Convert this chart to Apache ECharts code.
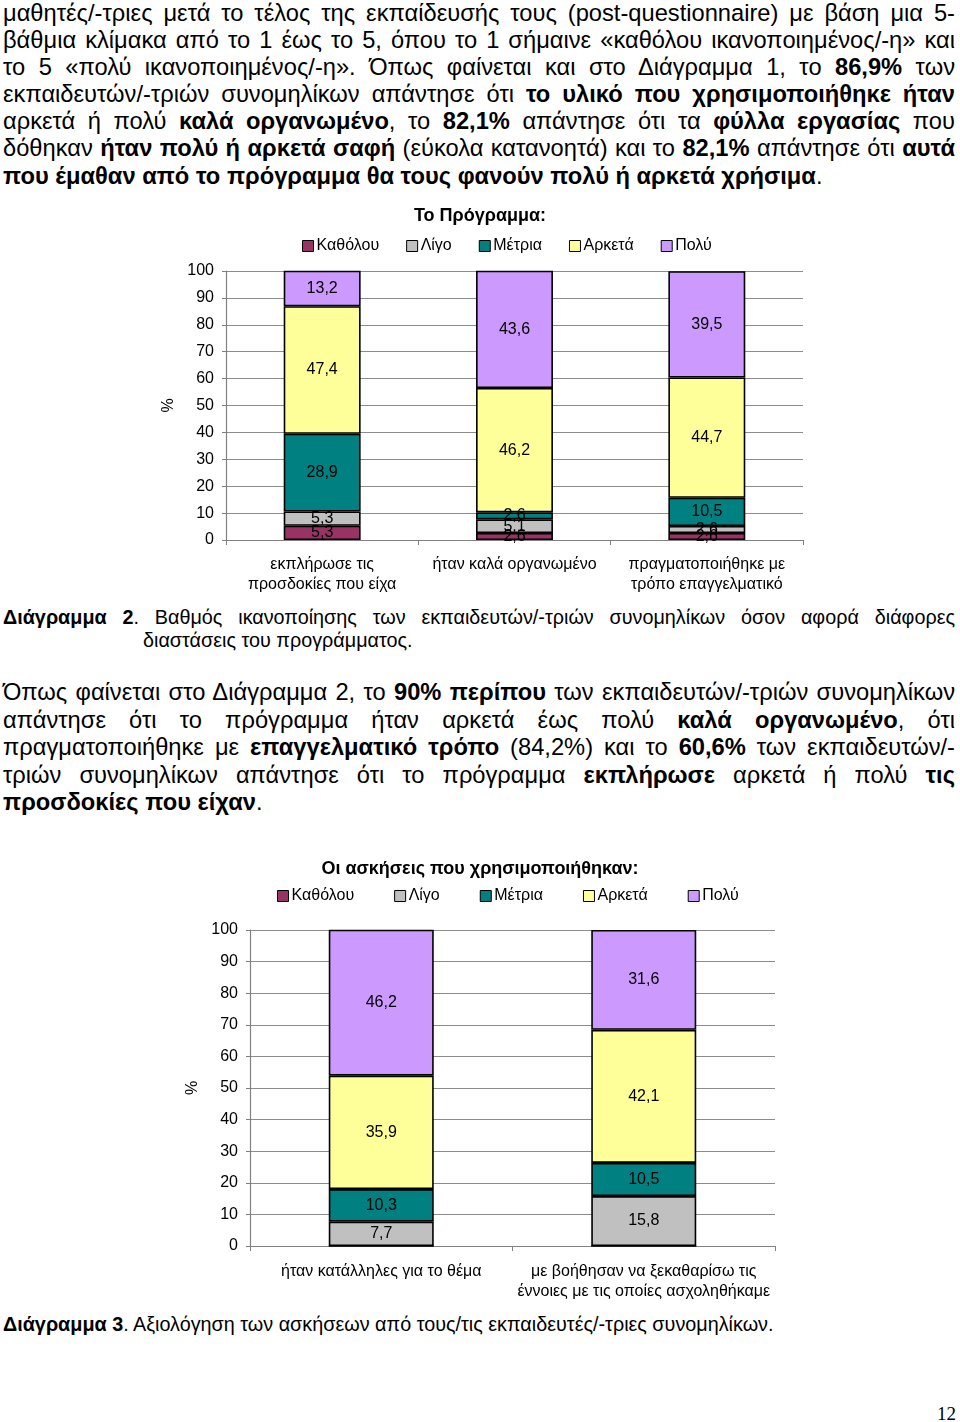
<!DOCTYPE html>
<html>
<head>
<meta charset="utf-8">
<script src="https://cdn.jsdelivr.net/npm/echarts@6/dist/echarts.min.js"></script>
<style>
  html, body { margin: 0; padding: 0; background: #fff; }
  #page { position: relative; width: 960px; height: 1422px; overflow: hidden; font-family: "Liberation Sans", Arial, sans-serif; color: #000; }
  .ln { position: absolute; left: 3px; width: 952px; height: 28px; line-height: 28px; font-size: 23.7px; text-align: left; white-space: nowrap; overflow: visible; }
  .cap { font-size: 19.8px; height: 24px; line-height: 24px; }
  .chart { position: absolute; left: 0; width: 960px; }
  #pnum { position: absolute; left: 930px; top: 1403px; font-family: "Liberation Serif", serif; font-size: 19px; line-height: 22px; width: 26px; text-align: right; }
</style>
</head>
<body>
<div id="page">
  <div class="ln j" style="top:-1px">μαθητές/-τριες μετά το τέλος της εκπαίδευσής τους (post-questionnaire) με βάση μια 5-</div>
  <div class="ln j" style="top:26px">βάθμια κλίμακα από το 1 έως το 5, όπου το 1 σήμαινε «καθόλου ικανοποιημένος/-η» και</div>
  <div class="ln j" style="top:53px">το 5 «πολύ ικανοποιημένος/-η». Όπως φαίνεται και στο Διάγραμμα 1, το <b>86,9%</b> των</div>
  <div class="ln j" style="top:80px">εκπαιδευτών/-τριών συνομηλίκων απάντησε ότι <b>το υλικό που χρησιμοποιήθηκε ήταν</b></div>
  <div class="ln j" style="top:107px">αρκετά ή πολύ <b>καλά οργανωμένο</b>, το <b>82,1%</b> απάντησε ότι τα <b>φύλλα εργασίας</b> που</div>
  <div class="ln j" style="top:134px">δόθηκαν <b>ήταν πολύ ή αρκετά σαφή</b> (εύκολα κατανοητά) και το <b>82,1%</b> απάντησε ότι <b>αυτά</b></div>
  <div class="ln" style="top:162px"><b>που έμαθαν από το πρόγραμμα θα τους φανούν πολύ ή αρκετά χρήσιμα</b>.</div>

  <div id="chart1" class="chart" style="top:195px;height:405px"></div>

  <div class="ln cap j" style="top:605px"><b>Διάγραμμα 2</b>. Βαθμός ικανοποίησης των εκπαιδευτών/-τριών συνομηλίκων όσον αφορά διάφορες</div>
  <div class="ln cap" style="top:628px;left:143px;width:812px">διαστάσεις του προγράμματος.</div>

  <div class="ln j" style="top:678px">Όπως φαίνεται στο Διάγραμμα 2, το <b>90% περίπου</b> των εκπαιδευτών/-τριών συνομηλίκων</div>
  <div class="ln j" style="top:706px">απάντησε ότι το πρόγραμμα ήταν αρκετά έως πολύ <b>καλά οργανωμένο</b>, ότι</div>
  <div class="ln j" style="top:733px">πραγματοποιήθηκε με <b>επαγγελματικό τρόπο</b> (84,2%) και το <b>60,6%</b> των εκπαιδευτών/-</div>
  <div class="ln j" style="top:761px">τριών συνομηλίκων απάντησε ότι το πρόγραμμα <b>εκπλήρωσε</b> αρκετά ή πολύ <b>τις</b></div>
  <div class="ln" style="top:788px"><b>προσδοκίες που είχαν</b>.</div>

  <div id="chart2" class="chart" style="top:845px;height:465px"></div>

  <div class="ln cap" style="top:1312px"><b>Διάγραμμα 3</b>. Αξιολόγηση των ασκήσεων από τους/τις εκπαιδευτές/-τριες συνομηλίκων.</div>

  <div id="pnum">12</div>
</div>
<script>
// ---------- DATA ----------
const seriesNames = ['Καθόλου', 'Λίγο', 'Μέτρια', 'Αρκετά', 'Πολύ'];
const yTicks = [0, 10, 20, 30, 40, 50, 60, 70, 80, 90, 100];

// Chart 1: Το Πρόγραμμα:
const title1 = 'Το Πρόγραμμα:';
const categories1 = ['εκπλήρωσε τις\nπροσδοκίες που είχα', 'ήταν καλά οργανωμένο', 'πραγματοποιήθηκε με\nτρόπο επαγγελματικό'];
const katholou1 = [5.3, 2.6, 2.6];
const ligo1 = [5.3, 5.1, 2.6];
const metria1 = [28.9, 2.6, 10.5];
const arketa1 = [47.4, 46.2, 44.7];
const poly1 = [13.2, 43.6, 39.5];

// Chart 2: Οι ασκήσεις που χρησιμοποιήθηκαν:
const title2 = 'Οι ασκήσεις που χρησιμοποιήθηκαν:';
const categories2 = ['ήταν κατάλληλες για το θέμα', 'με βοήθησαν να ξεκαθαρίσω τις\nέννοιες με τις οποίες ασχοληθήκαμε'];
const katholou2 = [0, 0];
const ligo2 = [7.7, 15.8];
const metria2 = [10.3, 10.5];
const arketa2 = [35.9, 42.1];
const poly2 = [46.2, 31.6];

// ---------- TEXT JUSTIFICATION (fit each justified line to the column width) ----------
document.querySelectorAll('.ln.j').forEach(el => {
  const span = document.createElement('span');
  while (el.firstChild) span.appendChild(el.firstChild);
  el.appendChild(span);
  const target = el.clientWidth;
  const w = span.getBoundingClientRect().width;
  const spaces = (el.textContent.match(/ /g) || []).length;
  if (spaces > 0) el.style.wordSpacing = ((target - w) / spaces) + 'px';
});

// ---------- STYLE ----------
const seriesColors = ['#993366', '#C0C0C0', '#008080', '#FFFF99', '#CC99FF'];
const FONT = 'Liberation Sans';

function buildOption(cfg) {
  const dataSets = cfg.data;
  return {
    animation: false,
    textStyle: { fontFamily: FONT },
    title: {
      text: cfg.title, left: 'center', top: cfg.titleTop, padding: 0,
      textStyle: { fontFamily: FONT, fontSize: 18, fontWeight: 'bold', color: '#000' }
    },
    legend: {
      data: seriesNames, left: cfg.legendLeft, top: cfg.legendTop, padding: 0,
      itemGap: cfg.legendGap, itemWidth: 11, itemHeight: 11, icon: 'rect',
      textStyle: { fontFamily: FONT, fontSize: 16, color: '#000', padding: [0, 0, 0, -2] },
      itemStyle: { borderColor: '#000', borderWidth: 1 }
    },
    grid: { left: cfg.grid.left, right: cfg.grid.right, top: cfg.grid.top, bottom: cfg.grid.bottom, containLabel: false },
    xAxis: {
      type: 'category', data: cfg.categories,
      axisLine: { show: true, lineStyle: { color: '#808080', width: 1.2 } },
      axisTick: { show: true, alignWithLabel: false, length: 5, lineStyle: { color: '#808080' } },
      axisLabel: { fontFamily: FONT, fontSize: 16, color: '#000', margin: cfg.xMargin, lineHeight: 20, interval: 0 }
    },
    yAxis: {
      type: 'value', min: yTicks[0], max: yTicks[yTicks.length - 1], interval: yTicks[1] - yTicks[0],
      name: '%', nameLocation: 'middle', nameRotate: 90, nameGap: cfg.nameGap,
      nameTextStyle: { fontFamily: FONT, fontSize: 16, color: '#000' },
      axisLine: { show: true, lineStyle: { color: '#808080', width: 1.2 } },
      axisTick: { show: true, length: 4, lineStyle: { color: '#808080' } },
      axisLabel: { fontFamily: FONT, fontSize: 16, color: '#000', margin: 12 },
      splitLine: { show: true, lineStyle: { color: '#8c8c8c', width: 1.2 } }
    },
    series: seriesNames.map((name, i) => ({
      name: name, type: 'bar', stack: 'total', barWidth: '40%',
      data: dataSets[i],
      itemStyle: { color: seriesColors[i], borderColor: '#000', borderWidth: 1.6 },
      label: {
        show: true, position: 'inside', fontFamily: FONT, fontSize: 16, color: '#000',
        formatter: p => (p.value ? String(p.value).replace('.', ',') : '')
      },
      emphasis: { disabled: true }
    }))
  };
}

const c1 = echarts.init(document.getElementById('chart1'), null, { renderer: 'canvas' });
c1.setOption(buildOption({
  title: title1, titleTop: 12,
  legendLeft: 302, legendTop: 43, legendGap: 27,
  grid: { left: 226, right: 157, top: 76, bottom: 60 },
  categories: categories1, xMargin: 15, nameGap: 48,
  data: [katholou1, ligo1, metria1, arketa1, poly1]
}));

const c2 = echarts.init(document.getElementById('chart2'), null, { renderer: 'canvas' });
c2.setOption(buildOption({
  title: title2, titleTop: 15,
  legendLeft: 277, legendTop: 43, legendGap: 40,
  grid: { left: 250, right: 185, top: 85, bottom: 64 },
  categories: categories2, xMargin: 16, nameGap: 46,
  data: [katholou2, ligo2, metria2, arketa2, poly2]
}));
</script>
</body>
</html>
